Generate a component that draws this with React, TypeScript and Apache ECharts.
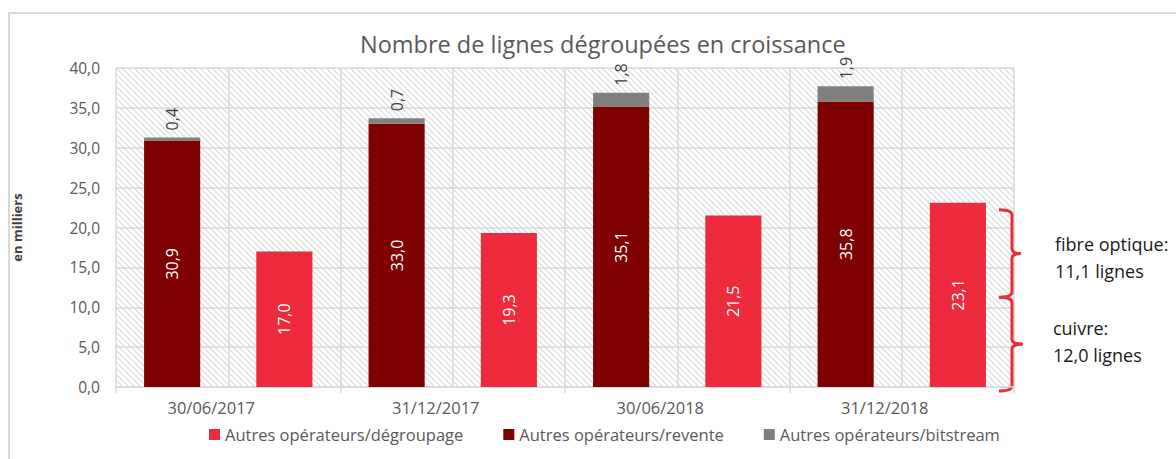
import React, { useEffect, useRef } from "react";
import * as echarts from "echarts";

const categories = ["30/06/2017", "31/12/2017", "30/06/2018", "31/12/2018"];
const degroupage = [17.0, 19.3, 21.5, 23.1];
const revente = [30.9, 33.0, 35.1, 35.8];
const bitstream = [0.4, 0.7, 1.8, 1.9];
const seriesNames = [
  "Autres opérateurs/dégroupage",
  "Autres opérateurs/revente",
  "Autres opérateurs/bitstream",
];
const cuivre = 12.0;
const fibre = 11.1;
const titleText = "Nombre de lignes dégroupées en croissance";
const yName = "en milliers";

const RED = "#EE2B3C";
const DARK = "#7F0000";
const GRAY = "#808080";
const TXT = "#595959";
const GRID = "#d9d9d9";
const FONT = "'Open Sans', sans-serif";

const fmt = (v: number) => v.toFixed(1).replace(".", ",");

echarts.graphic.registerShape(
  "brace",
  echarts.graphic.extendShape({
    shape: { x: 0, y1: 0, y2: 0, w: 13, tip: 9, r: 5 },
    buildPath(ctx: any, s: any) {
      const xs = s.x + s.w;
      const ym = (s.y1 + s.y2) / 2;
      const r = s.r;
      ctx.moveTo(s.x, s.y1);
      ctx.quadraticCurveTo(xs, s.y1, xs, s.y1 + r);
      ctx.lineTo(xs, ym - r);
      ctx.quadraticCurveTo(xs, ym, xs + s.tip, ym);
      ctx.moveTo(xs + s.tip, ym);
      ctx.quadraticCurveTo(xs, ym, xs, ym + r);
      ctx.lineTo(xs, s.y2 - r);
      ctx.quadraticCurveTo(xs, s.y2, s.x, s.y2);
    },
  } as any) as any
);

function makeHatch(): HTMLCanvasElement {
  const s = 6;
  const c = document.createElement("canvas");
  c.width = s;
  c.height = s;
  const g = c.getContext("2d")!;
  g.fillStyle = "#ffffff";
  g.fillRect(0, 0, s, s);
  g.strokeStyle = "#d9d9d9";
  g.lineWidth = 1.1;
  g.beginPath();
  g.moveTo(-1, -1);
  g.lineTo(s + 1, s + 1);
  g.moveTo(-1, s - 1);
  g.lineTo(1, s + 1);
  g.moveTo(s - 1, -1);
  g.lineTo(s + 1, 1);
  g.stroke();
  return c;
}

export default function App() {
  const ref = useRef<HTMLDivElement>(null);
  useEffect(() => {
    document.body.style.margin = "0";
    if (!ref.current) return;
    const chart = echarts.init(ref.current, undefined, { renderer: "svg" });
    const hatch = makeHatch();
    const barLabel = {
      show: true,
      position: "inside",
      rotate: 90,
      color: "#ffffff",
      fontFamily: FONT,
      fontSize: 16,
      formatter: (p: any) => fmt(p.value),
    };
    chart.setOption({
      animation: false,
      backgroundColor: "#ffffff",
      title: {
        text: titleText,
        left: 355,
        top: 27,
        textStyle: { fontFamily: FONT, fontSize: 23.5, fontWeight: "normal", color: TXT },
      },
      legend: {
        data: seriesNames,
        left: 204,
        top: 421,
        itemWidth: 11,
        itemHeight: 11,
        itemGap: 40,
        icon: "rect",
        textStyle: { fontFamily: FONT, fontSize: 16.5, color: TXT },
      },
      grid: {
        show: true,
        left: 116,
        right: 162,
        top: 68,
        bottom: 72,
        borderWidth: 0,
        backgroundColor: { image: hatch, repeat: "repeat", imageWidth: 6, imageHeight: 6 } as any,
      },
      xAxis: [
        {
          type: "category",
          data: categories,
          axisLine: { lineStyle: { color: GRID, width: 1.5 } },
          axisTick: { show: true, length: 6, lineStyle: { color: GRID, width: 1.5 } },
          splitLine: { show: false },
          axisLabel: {
            fontFamily: FONT,
            fontSize: 16.5,
            color: TXT,
            margin: 12,
            padding: [0, 34, 0, 0],
          },
        },
        {
          type: "value",
          min: 0,
          max: 8,
          interval: 1,
          show: true,
          position: "bottom",
          axisLine: { show: false },
          axisTick: { show: false },
          axisLabel: { show: false },
          splitLine: { show: true, lineStyle: { color: GRID, width: 1.5 } },
        },
      ],
      yAxis: {
        type: "value",
        min: 0,
        max: 40,
        interval: 5,
        name: yName,
        nameLocation: "middle",
        nameGap: 93,
        nameTextStyle: { fontFamily: FONT, fontSize: 13, fontWeight: "bold", color: "#404040" },
        axisLine: { show: false },
        axisTick: { show: false },
        axisLabel: {
          fontFamily: FONT,
          fontSize: 15.5,
          color: TXT,
          margin: 16,
          formatter: (v: number) => fmt(v),
        },
        splitLine: { show: true, lineStyle: { color: GRID, width: 1.5 } },
      },
      series: [
        {
          name: seriesNames[1],
          type: "bar",
          stack: "a",
          data: revente,
          itemStyle: { color: DARK },
          barCategoryGap: "25%",
          barGap: "100%",
          label: barLabel,
        },
        {
          name: seriesNames[2],
          type: "bar",
          stack: "a",
          data: bitstream,
          itemStyle: { color: GRAY },
          label: {
            show: true,
            position: "top",
            rotate: 90,
            align: "left",
            verticalAlign: "middle",
            distance: 7,
            color: "#404040",
            fontFamily: FONT,
            fontSize: 16,
            formatter: (p: any) => fmt(p.value),
          },
        },
        {
          name: seriesNames[0],
          type: "bar",
          stack: "b",
          data: degroupage,
          itemStyle: { color: RED },
          barCategoryGap: "25%",
          barGap: "100%",
          label: barLabel,
        },
      ],
    });

    const yTop = chart.convertToPixel({ yAxisIndex: 0 }, cuivre + fibre) as number;
    const yMid = chart.convertToPixel({ yAxisIndex: 0 }, cuivre) as number;
    const yBot = chart.convertToPixel({ yAxisIndex: 0 }, 0) as number;
    const x0 = chart.convertToPixel({ xAxisIndex: 0 }, 0) as number;
    const x1 = chart.convertToPixel({ xAxisIndex: 0 }, 1) as number;
    const xLast = chart.convertToPixel({ xAxisIndex: 0 }, categories.length - 1) as number;
    const catW = x1 - x0;
    const bx = xLast + catW * 0.375 + 13;
    const b1 = { y1: yTop + 7, y2: yMid + 6 };
    const b2 = { y1: yMid + 6, y2: yBot + 4 };
    const braceStyle = { stroke: RED, lineWidth: 3, fill: "none" };
    const textStyle = {
      fontFamily: FONT,
      fontSize: 18,
      fill: "#1a1a1a",
      lineHeight: 27,
      verticalAlign: "middle",
    };
    chart.setOption({
      graphic: [
        { type: "line", shape: { x1: 8, y1: 13, x2: 1176, y2: 13 }, style: { stroke: GRID, lineWidth: 2 } },
        { type: "line", shape: { x1: 9, y1: 13, x2: 9, y2: 459 }, style: { stroke: GRID, lineWidth: 2 } },
        { type: "brace", shape: { x: bx, y1: b1.y1, y2: b1.y2, w: 13, tip: 9, r: 5 }, style: braceStyle },
        { type: "brace", shape: { x: bx, y1: b2.y1, y2: b2.y2, w: 13, tip: 11, r: 5 }, style: braceStyle },
        {
          type: "text",
          x: bx + 56,
          y: (b1.y1 + b1.y2) / 2 + 4,
          style: { ...textStyle, text: `fibre optique:\n${fmt(fibre)} lignes` },
        },
        {
          type: "text",
          x: bx + 54,
          y: (b2.y1 + b2.y2) / 2 - 3,
          style: { ...textStyle, text: `cuivre:\n${fmt(cuivre)} lignes` },
        },
      ],
    });
    return () => chart.dispose();
  }, []);
  return <div ref={ref} style={{ width: 1176, height: 459 }} />;
}
